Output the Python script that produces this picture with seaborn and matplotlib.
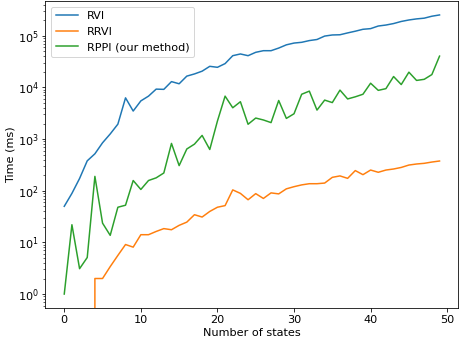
#!/usr/bin/env python3
import pandas as pd
import seaborn as sns
import matplotlib
matplotlib.use('Agg')
import matplotlib.pyplot as plt

# number of states 0..49
states = list(range(50))

rvi = [50, 89, 173, 380, 520, 850, 1260, 1950, 6300, 3500,
       5500, 6800, 9300, 9200, 13000, 11800, 16600, 18300, 20700, 25700,
       24600, 29000, 41300, 44600, 41300, 48000, 51600, 51600, 58000, 67000,
       72500, 75000, 81000, 85000, 99000, 104000, 105000, 114000, 123000, 134000,
       138000, 155000, 162000, 173000, 190000, 203000, 213000, 220000, 240000, 254000]

rrvi = [0, 0, 0, 0, 2, 2, 3.4, 5.6, 9.1, 8.1,
        14.1, 14.1, 16.3, 18.5, 17.6, 21.4, 24.7, 34.4, 31, 39.8,
        48, 51.6, 104, 89, 67, 88, 71, 91, 87, 109,
        120, 130, 137, 137, 141, 182, 194, 174, 246, 205,
        252, 228, 252, 264, 283, 315, 330, 340, 360, 377]

rppi = [1, 22, 3.1, 5.1, 190, 23.6, 13.7, 48, 52.5, 158,
        106, 158, 178, 221, 826, 307, 644, 800, 1180, 630,
        2240, 6800, 4050, 5300, 1940, 2560, 2350, 2090, 5600, 2520,
        3100, 7400, 8500, 3650, 5700, 5100, 8900, 6000, 6600, 7400,
        12100, 8800, 9500, 16300, 11400, 19800, 13700, 14400, 17800, 40500]

series = {'RVI': rvi, 'RRVI': rrvi, 'RPPI (our method)': rppi}


def main():
    plt.rcParams['font.size'] = 11.2

    df = pd.concat(
        [pd.DataFrame({'states': states, 'time': vals, 'method': name})
         for name, vals in series.items()],
        ignore_index=True)

    fig = plt.figure(figsize=(460 / 72, 342 / 72), dpi=72)
    ax = fig.add_axes([0.0989, 0.0994, 0.8974, 0.8977])

    sns.lineplot(data=df, x='states', y='time', hue='method',
                 palette=['#1f77b4', '#ff7f0e', '#2ca02c'],
                 errorbar=None, ax=ax)
    ax.set_yscale('log')
    ax.set_xlabel('Number of states', labelpad=3)
    ax.set_ylabel('Time (ms)', labelpad=2)
    ax.legend(loc='upper left')

    fig.savefig('out.png', dpi=72)
    plt.close(fig)


if __name__ == "__main__":
    main()
